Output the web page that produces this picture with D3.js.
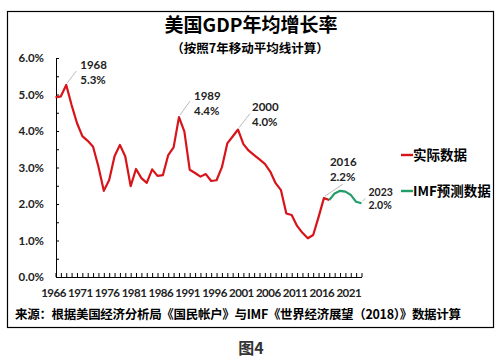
<!DOCTYPE html>
<html><head><meta charset="utf-8">
<script src="https://cdn.jsdelivr.net/npm/d3@7/dist/d3.min.js"></script>
<style>body{margin:0;background:#fff}svg{display:block}</style>
</head><body>
<script>
const actualYears = d3.range(1966, 2018);
const actualValues = [4.92,4.95,5.26,4.71,4.22,3.86,3.73,3.57,3.02,2.36,2.66,3.31,3.62,3.30,2.49,2.96,2.71,2.58,2.95,2.77,2.79,3.34,3.55,4.38,3.99,2.94,2.85,2.75,2.82,2.63,2.65,3.01,3.66,3.85,4.04,3.64,3.46,3.34,3.22,3.10,2.89,2.57,2.38,1.74,1.70,1.40,1.21,1.06,1.15,1.64,2.16,2.11];
const imfYears = [2017,2018,2019,2020,2021,2022,2023];
const imfValues = [2.11,2.29,2.36,2.34,2.25,2.06,2.02];
const yTicks = [0,1,2,3,4,5,6];
const xLabelYears = [1966,1971,1976,1981,1986,1991,1996,2001,2006,2011,2016,2021];
const annotations = [
  {year:1968, label:"1968", value:"5.3%"},
  {year:1989, label:"1989", value:"4.4%"},
  {year:2000, label:"2000", value:"4.0%"},
  {year:2016, label:"2016", value:"2.2%"},
  {year:2023, label:"2023", value:"2.0%"}
];
const legendItems = [{name:"实际数据", color:"#d8141b"},{name:"IMF预测数据", color:"#1f9e68"}];

const W=504,H=359;
const svg=d3.select("body").append("svg").attr("width",W).attr("height",H);
const cjk="'Noto Sans CJK SC','Noto Sans',sans-serif";
const num="Lato,'Liberation Sans',sans-serif";

svg.append("rect").attr("x",7.5).attr("y",11.5).attr("width",486).attr("height",316)
  .attr("fill","none").attr("stroke","#000").attr("stroke-width",1.2);

const x=d3.scaleLinear().domain([1966,2023]).range([55.5,361.5]);
const y=d3.scaleLinear().domain([0,6]).range([277,58]);

// axes
const ya=svg.append("g").attr("transform","translate(56,0)")
  .call(d3.axisRight(y).tickValues(d3.range(0,6.01,0.5)).tickSize(3).tickFormat(""));
ya.select(".domain").attr("stroke","#000");
ya.selectAll("line").attr("stroke","#000");
svg.append("g").selectAll("text").data(yTicks).join("text")
  .attr("x",44).attr("y",d=>y(d)+4).attr("text-anchor","end")
  .attr("font-family",num).attr("font-size",11.5).attr("font-weight","bold").attr("fill","#222")
  .text(d=>d.toFixed(1)+"%");

const xa=svg.append("g").attr("transform","translate(0,277)")
  .call(d3.axisTop(x).tickValues(d3.range(1966,2024)).tickSize(4).tickFormat("").tickSizeOuter(0));
xa.select(".domain").attr("stroke","#000");
xa.selectAll("line").attr("stroke","#000");
svg.append("g").selectAll("text").data(xLabelYears).join("text")
  .attr("x",d=>x(d)-2).attr("y",297).attr("text-anchor","middle")
  .attr("font-family",num).attr("font-size",11.5).attr("font-weight","bold").attr("fill","#222")
  .attr("letter-spacing",-0.5)
  .text(d=>d);

// lines
const line=d3.line().x(d=>x(d[0])).y(d=>y(d[1]));
svg.append("path").datum(actualYears.map((d,i)=>[d,actualValues[i]]))
  .attr("d",line).attr("fill","none").attr("stroke",legendItems[0].color).attr("stroke-width",2.2).attr("stroke-linejoin","round");
svg.append("path").datum(imfYears.map((d,i)=>[d,imfValues[i]]))
  .attr("d",line).attr("fill","none").attr("stroke",legendItems[1].color).attr("stroke-width",2.2).attr("stroke-linejoin","round");

// annotations: [leader dx, leader dy, text dx, label baseline dy, value baseline dy, font size]
const allVals=new Map();
actualYears.forEach((d,i)=>allVals.set(d,actualValues[i]));
imfYears.forEach((d,i)=>allVals.set(d,imfValues[i]));
const layout={
  1968:[10,-14,14,-16,-1,11.5],
  1989:[11,-16,15,-17,-2,11.5],
  2000:[12,-16,14,-18.5,-3.5,11.5],
  2016:[19,-14,6,-32,-17,11.5],
  2023:[4,-5,7,-7,6,10.5]
};
annotations.forEach(a=>{
  const px=x(a.year), py=y(allVals.get(a.year));
  const o=layout[a.year];
  svg.append("line").attr("x1",px+1).attr("y1",py-2).attr("x2",px+o[0]).attr("y2",py+o[1])
    .attr("stroke","#aaa").attr("stroke-width",0.8);
  [[a.label,o[3]],[a.value,o[4]]].forEach(t=>{
    svg.append("text").attr("x",px+o[2]).attr("y",py+t[1])
      .attr("font-family",num).attr("font-size",o[5]).attr("font-weight","bold").attr("fill","#222").text(t[0]);
  });
});

// legend
legendItems.forEach((l,i)=>{
  const ly=i===0?155:191;
  svg.append("line").attr("x1",401).attr("x2",413).attr("y1",ly).attr("y2",ly).attr("stroke",l.color).attr("stroke-width",2.4);
  svg.append("text").attr("x",413).attr("y",ly+5).attr("font-family",cjk).attr("font-size",13.5)
    .attr("font-weight","bold").attr("fill","#000").text(l.name);
});

// titles
svg.append("text").attr("x",251).attr("y",32).attr("text-anchor","middle").attr("font-family",cjk)
  .attr("font-size",19).attr("font-weight","bold").attr("fill","#000").text("美国GDP年均增长率");
svg.append("text").attr("x",250).attr("y",53).attr("text-anchor","middle").attr("font-family",cjk)
  .attr("font-size",12.5).attr("font-weight","bold").attr("fill","#000").text("（按照7年移动平均线计算）");
svg.append("text").attr("x",15).attr("y",319).attr("font-family",cjk)
  .attr("font-size",12.5).attr("font-weight","bold").attr("fill","#000")
  .attr("textLength",446).attr("lengthAdjust","spacing")
  .text("来源：根据美国经济分析局《国民帐户》与IMF《世界经济展望（2018）》数据计算");
svg.append("text").attr("x",251).attr("y",354).attr("text-anchor","middle").attr("font-family",cjk)
  .attr("font-size",16).attr("font-weight","bold").attr("fill","#333").text("图4");
</script>
</body></html>
